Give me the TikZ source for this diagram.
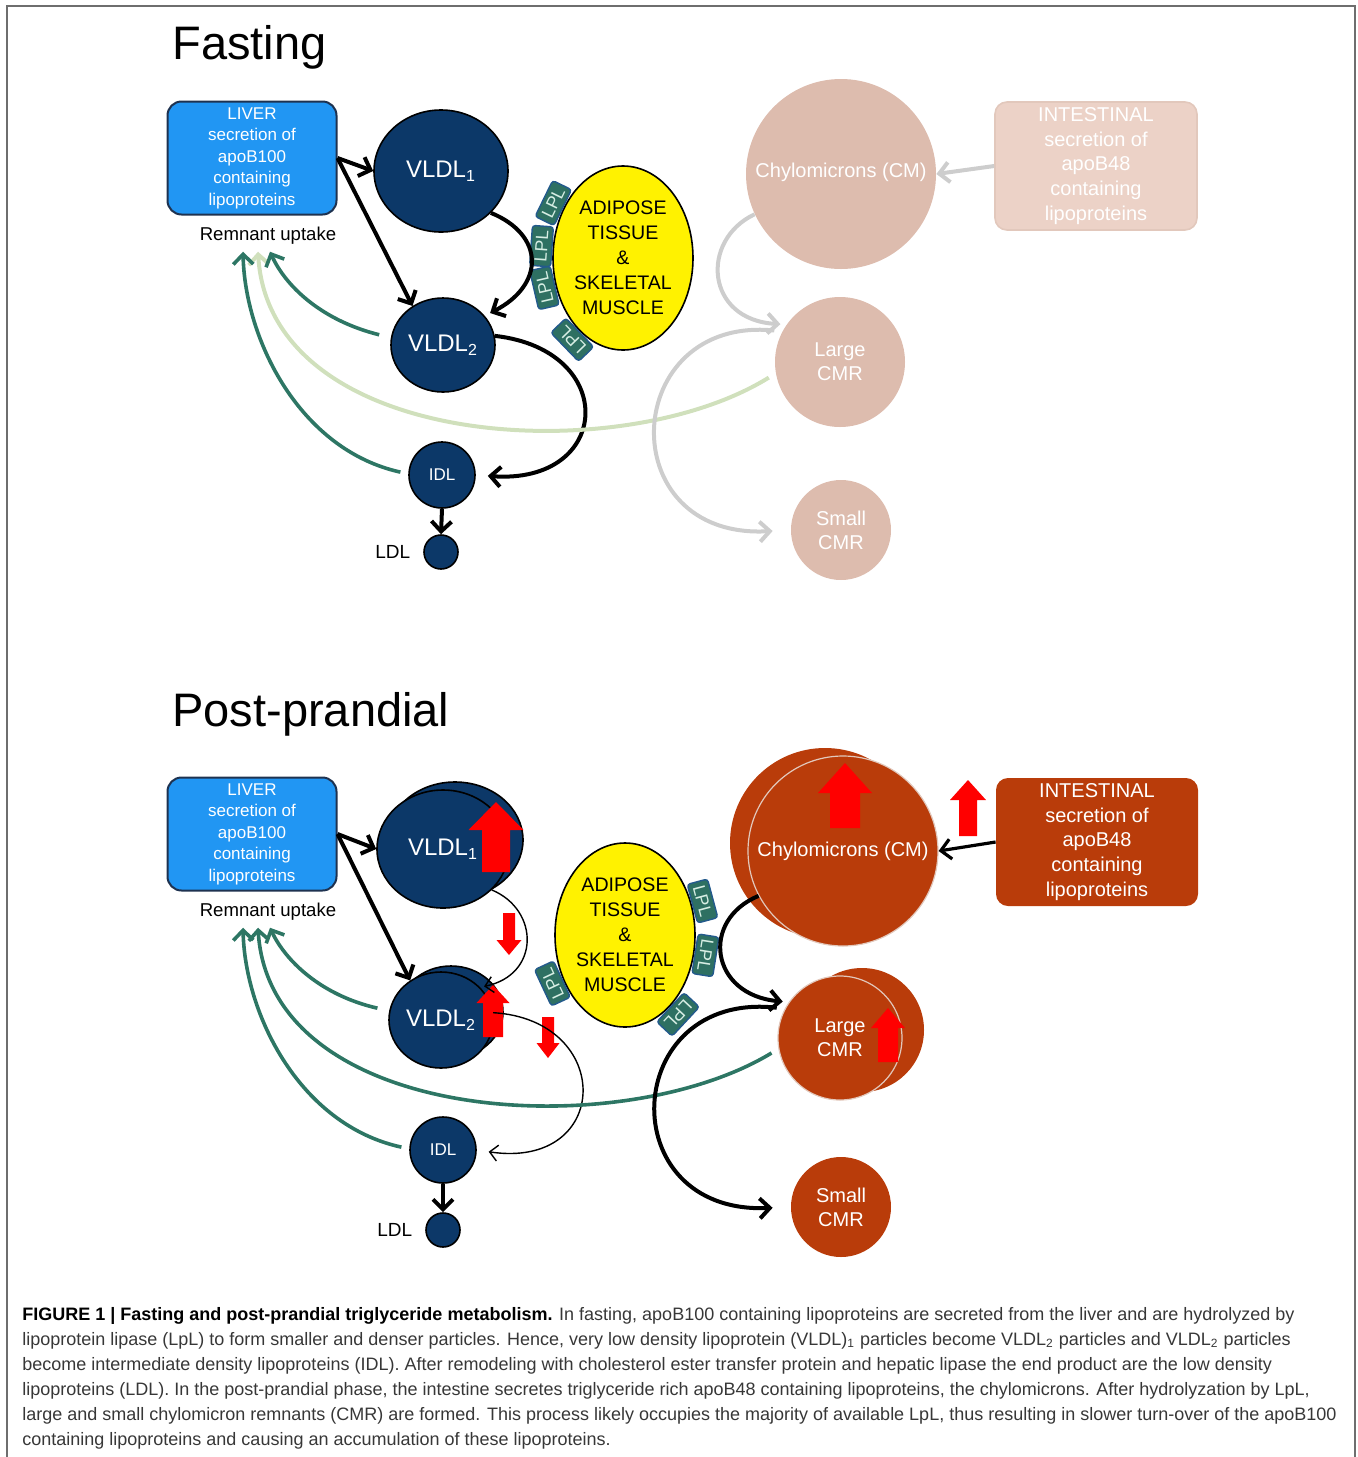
\documentclass[tikz,border=0pt]{standalone}
\usepackage{fontspec}
\setmainfont{Liberation Sans}
\usetikzlibrary{positioning,shapes.geometric,arrows.meta}
\definecolor{marine}{RGB}{12,56,104}
\definecolor{leverblaa}{RGB}{33,150,243}
\definecolor{leverkant}{RGB}{30,50,80}
\definecolor{rust}{RGB}{185,60,10}
\definecolor{blekrust}{RGB}{221,188,174}
\definecolor{blekboks}{RGB}{236,210,199}
\definecolor{blekkant}{RGB}{226,200,188}
\definecolor{sjogronn}{RGB}{45,118,100}
\definecolor{lysgronn}{RGB}{208,224,188}
\definecolor{lysgraa}{RGB}{205,205,205}
\definecolor{lplgronn}{RGB}{46,112,98}
\definecolor{lplkant}{RGB}{35,90,140}
\definecolor{lpltekst}{RGB}{215,238,228}
\definecolor{rammegraa}{RGB}{110,110,110}
\definecolor{tekstgraa}{RGB}{55,55,55}
\begin{document}
\begin{tikzpicture}[x=0.5pt,y=-0.5pt,
partikkel/.style={ellipse,draw=black,line width=0.8pt,fill=marine,text=white,inner sep=0pt,font=\fontsize{12}{14}\selectfont},
rest/.style={circle,fill=rust,text=white,inner sep=0pt,align=center,font=\fontsize{10}{12}\selectfont},
blek/.style={rest,fill=blekrust},
lever/.style={draw=leverkant,line width=1pt,fill=leverblaa,rounded corners=7pt,minimum width=84.5pt,minimum height=56.5pt,inner sep=1pt,text=white,align=center,font=\fontsize{8.5}{10.75}\selectfont},
tarm/.style={rounded corners=6pt,minimum width=101pt,minimum height=64pt,inner sep=1pt,text=white,align=center,font=\fontsize{10}{12.4}\selectfont},
fett/.style={ellipse,draw=black,line width=0.8pt,fill=yellow,minimum width=70pt,minimum height=92pt,inner sep=0pt,align=center,font=\fontsize{9.8}{12.5}\selectfont},
lpl/.style={anchor=south,draw=lplkant,line width=0.7pt,fill=lplgronn,rounded corners=1.5pt,minimum width=20pt,minimum height=10.5pt,inner sep=0pt,text=lpltekst,font=\fontsize{8.8}{8.8}\selectfont},
opptak/.style={font=\fontsize{9.3}{11}\selectfont},
tittel/.style={anchor=base west,inner sep=0pt,font=\fontsize{23.5}{26}\selectfont},
tekst/.style={anchor=base west,inner sep=0pt,text=tekstgraa,font=\fontsize{9}{10}\selectfont},
svartpil/.style={line width=2pt,-{Straight Barb[length=5pt,width=10pt]}},
tynnpil/.style={line width=0.7pt,-{Straight Barb[length=4pt,width=8pt]}},
gronnpil/.style={sjogronn,line width=1.8pt,-{Straight Barb[length=5pt,width=10pt]}},
blekpil/.style={lysgraa,line width=2pt,-{Straight Barb[length=5pt,width=10pt]}},
pics/rodpil/.style n args={4}{code={\fill[red] ({-#3/2},0) -- ({#3/2},0) -- ({#3/2},{#4-#1}) -- ({#2/2},{#4-#1}) -- (0,{-#1}) -- ({-#2/2},{#4-#1}) -- ({-#3/2},{#4-#1}) -- cycle;}}]
\useasboundingbox (0,0) rectangle (1357,1457);
\draw[rammegraa,line width=1pt] (7,1457) |- (1355,6) -- (1355,1457);

\node[tittel] (tittel1) at (172,59) {Fasting};
\node[lever] (lever1) at (252,158) {LIVER\\secretion of\\apoB100\\containing\\lipoproteins};
\node[opptak] (opptak1) at (268,236) {Remnant uptake};
\node[partikkel,minimum width=67pt,minimum height=61pt] (vldlen1) at (441,171) {VLDL\textsubscript{1}};
\node[partikkel,minimum width=52pt,minimum height=47pt] (vldlto1) at (443,345) {VLDL\textsubscript{2}};
\node[partikkel,minimum size=33pt,font=\fontsize{8.5}{10}\selectfont] (idl1) at (442,475) {IDL};
\node[partikkel,minimum size=17pt] (ldl1) at (441,552) {};
\node[left=3pt of ldl1,font=\fontsize{9.5}{11}\selectfont] (ldltekst1) {LDL};
\node[fett] (fett1) at (623,258) {ADIPOSE\\TISSUE\\\&\\SKELETAL\\MUSCLE};
\node[lpl,rotate=64] (lpla1) at (fett1.140) {LPL};
\node[lpl,rotate=86] (lplb1) at (fett1.171) {LPL};
\node[lpl,rotate=103] (lplc1) at (fett1.202) {LPL};
\node[lpl,rotate=134] (lpld1) at (fett1.240) {LPL};
\node[blek,minimum size=95pt] (cm1) at (841,174) {\raisebox{4pt}{Chylomicrons (CM)}};
\node[tarm,draw=blekkant,line width=0.8pt,fill=blekboks] (tarm1) at (1096,166) {INTESTINAL\\secretion of\\apoB48\\containing\\lipoproteins};
\node[blek,minimum size=65pt] (stor1) at (840,362) {Large\\CMR};
\node[blek,minimum size=50pt] (liten1) at (841,530) {Small\\CMR};

\draw[svartpil] (lever1.east) -- (vldlen1.west);
\draw[svartpil] (lever1.east) -- (vldlto1.128);
\draw[svartpil,shorten >=3pt] (vldlen1.-40) .. controls (545,235) and (545,285) .. (vldlto1.35);
\draw[svartpil,shorten >=6pt] (vldlto1.10) .. controls (620,350) and (612,485) .. (idl1.east);
\draw[svartpil] (idl1.south) -- (ldl1.north);
\draw[lysgronn,line width=2pt,-{Straight Barb[length=5pt,width=10pt]},shorten <=4pt] (stor1.190) .. controls (620,470) and (270,450) .. ([xshift=-5pt]opptak1.south);
\draw[gronnpil,shorten <=6pt] (vldlto1.172) .. controls (320,320) and (285,285) .. ([xshift=1pt]opptak1.south);
\draw[gronnpil,shorten <=4pt] (idl1.178) .. controls (300,450) and (245,340) .. ([xshift=-12.5pt]opptak1.south);
\draw[blekpil] (tarm1.west) -- (cm1.east);
\draw[blekpil,shorten >=3pt] (cm1.205) .. controls (700,240) and (705,320) .. (stor1.145);
\draw[blekpil,shorten <=4pt,shorten >=9pt] (stor1.152) .. controls (620,315) and (610,540) .. (liten1.west);

\node[tittel] (tittel2) at (172,726) {Post-prandial};
\node[lever] (lever2) at (252,834) {LIVER\\secretion of\\apoB100\\containing\\lipoproteins};
\node[opptak] (opptak2) at (268,912) {Remnant uptake};
\node[partikkel,minimum width=68pt,minimum height=58pt] (vldlenbak2) at (455,840) {};
\node[partikkel,minimum width=66pt,minimum height=59pt] (vldlen2) at (443,849) {VLDL\textsubscript{1}};
\pic at (496,872) {rodpil={70}{55}{28}{28}};
\node[partikkel,minimum width=52pt,minimum height=46pt] (vldltobak2) at (451,1012) {};
\node[partikkel,minimum width=52pt,minimum height=48pt] (vldlto2) at (441,1020) {VLDL\textsubscript{2}};
\pic at (493,1037) {rodpil={52}{33}{20}{18}};
\pic[yscale=-1] at (509,913) {rodpil={42}{25}{12}{15}};
\pic[yscale=-1] at (548,1017) {rodpil={41}{23}{12}{15}};
\node[partikkel,minimum size=33pt,font=\fontsize{8.5}{10}\selectfont] (idl2) at (443,1150) {IDL};
\node[partikkel,minimum size=17pt] (ldl2) at (443,1230) {};
\node[left=3pt of ldl2,font=\fontsize{9.5}{11}\selectfont] (ldltekst2) {LDL};
\node[fett] (fett2) at (625,935) {ADIPOSE\\TISSUE\\\&\\SKELETAL\\MUSCLE};
\node[lpl,rotate=-75] (lpla2) at (fett2.25) {LPL};
\node[lpl,rotate=-99] (lplb2) at (fett2.-15) {LPL};
\node[lpl,rotate=-133] (lplc2) at (fett2.-58) {LPL};
\node[lpl,rotate=115] (lpld2) at (fett2.215) {LPL};
\node[rest,minimum size=95pt] (cmbak2) at (825,843) {};
\node[rest,minimum size=95pt,draw=blekkant,line width=0.6pt] (cm2) at (843,851) {Chylomicrons (CM)};
\pic at (845,828) {rodpil={65}{54}{30}{30}};
\pic at (968,836) {rodpil={56}{36}{18}{20}};
\node[tarm,fill=rust] (tarm2) at (1097,842) {INTESTINAL\\secretion of\\apoB48\\containing\\lipoproteins};
\node[rest,minimum size=62pt] (storbak2) at (862,1030) {};
\node[rest,minimum size=62pt,draw=blekkant,line width=0.6pt] (stor2) at (840,1038) {Large\\CMR};
\pic at (888,1062) {rodpil={54}{34}{20}{20}};
\node[rest,minimum size=50pt] (liten2) at (841,1207) {Small\\CMR};

\draw[svartpil] (lever2.east) -- (vldlen2.west);
\draw[svartpil] (lever2.east) -- (vldlto2.128);
\draw[tynnpil,shorten >=2pt] (vldlen2.-40) .. controls (540,910) and (540,975) .. (vldlto2.40);
\draw[tynnpil,shorten >=6pt] (vldlto2.8) .. controls (615,1020) and (612,1170) .. (idl2.east);
\draw[svartpil] (idl2.south) -- (ldl2.north);
\draw[gronnpil,shorten <=6pt] (vldlto2.170) .. controls (320,995) and (285,960) .. ([xshift=1pt]opptak2.south);
\draw[gronnpil,shorten <=4pt] (idl2.178) .. controls (300,1125) and (245,1015) .. ([xshift=-12.5pt]opptak2.south);
\draw[gronnpil,shorten <=4pt] (stor2.190) .. controls (620,1145) and (270,1125) .. ([xshift=-5pt]opptak2.south);
\draw[svartpil,line width=1.6pt] (tarm2.west) -- (cm2.east);
\draw[svartpil,shorten >=3pt] (cm2.208) .. controls (700,920) and (710,995) .. (stor2.145);
\draw[svartpil,shorten <=4pt,shorten >=9pt] (stor2.152) .. controls (620,990) and (610,1215) .. (liten2.west);

\node[tekst] (tekst1) at (22,1320) {\textbf{\color{black}FIGURE 1 | Fasting and post-prandial triglyceride metabolism.} In fasting, apoB100 containing lipoproteins are secreted from the liver and are hydrolyzed by};
\node[tekst] (tekst2) at (22,1345) {lipoprotein lipase (LpL) to form smaller and denser particles. Hence, very low density lipoprotein (VLDL)\textsubscript{1} particles become VLDL\textsubscript{2} particles and VLDL\textsubscript{2} particles};
\node[tekst] (tekst3) at (22,1370) {become intermediate density lipoproteins (IDL). After remodeling with cholesterol ester transfer protein and hepatic lipase the end product are the low density};
\node[tekst] (tekst4) at (22,1395) {lipoproteins (LDL). In the post-prandial phase, the intestine secretes triglyceride rich apoB48 containing lipoproteins, the chylomicrons. After hydrolyzation by LpL,};
\node[tekst] (tekst5) at (22,1420) {large and small chylomicron remnants (CMR) are formed. This process likely occupies the majority of available LpL, thus resulting in slower turn-over of the apoB100};
\node[tekst] (tekst6) at (22,1445) {containing lipoproteins and causing an accumulation of these lipoproteins.};
\end{tikzpicture}
\end{document}
